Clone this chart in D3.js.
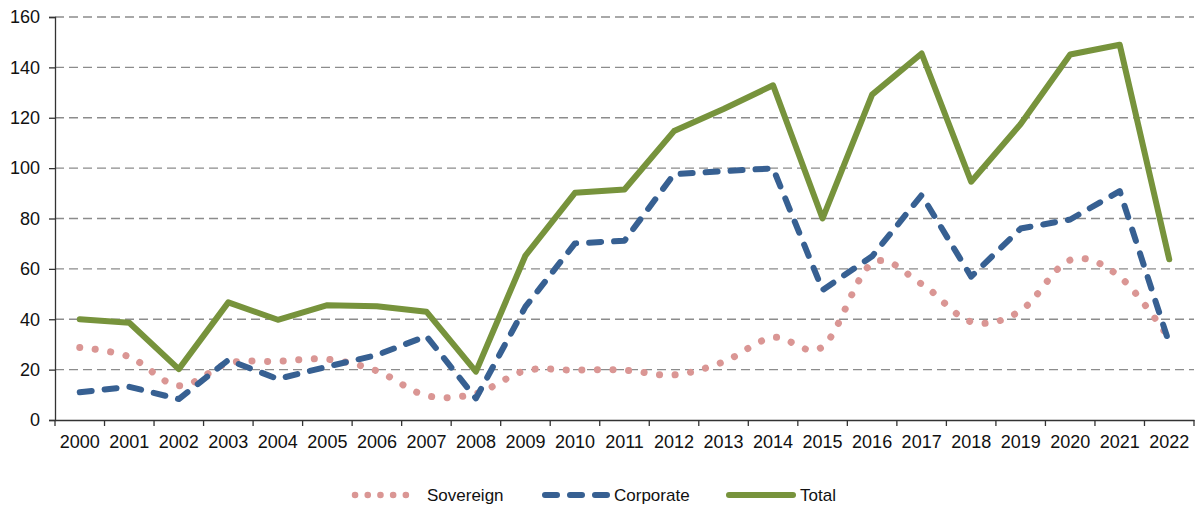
<!DOCTYPE html>
<html>
<head>
<meta charset="utf-8">
<script src="https://cdn.jsdelivr.net/npm/d3@7"></script>
<style>
  body { margin: 0; background: #fff; }
  svg { display: block; font-family: "Liberation Sans", Arial, sans-serif; }
</style>
</head>
<body>
<div id="chart"></div>
<script>
// years on the x axis
var years = ['2000','2001','2002','2003','2004','2005','2006','2007','2008','2009','2010','2011',
             '2012','2013','2014','2015','2016','2017','2018','2019','2020','2021','2022'];

// series values
var sovereign = [28.8, 25.1, 13.6, 22.5, 23.3, 24.1, 19.5, 9.7, 10.5, 19.6, 19.8, 19.8,
                 17.9, 23.1, 32.8, 29.1, 62.2, 54, 39, 43.4, 63.5, 56.9, 32.4];
var corporate = [11, 13.2, 8.3, 23.8, 16.3, 21.2, 25.8, 33.3, 8.6, 45, 70.1, 71.2,
                 97.6, 98.8, 99.9, 51.6, 65, 89.3, 56.9, 76, 79.6, 90.9, 30.4];
var total = [40, 38.6, 20.2, 46.7, 39.8, 45.6, 45.2, 43, 19.2, 65.3, 90.2, 91.5,
             114.7, 123.5, 132.9, 80, 129.2, 145.5, 94.6, 117.5, 145.1, 149, 63.8];

var yTicks = [0, 20, 40, 60, 80, 100, 120, 140, 160];

var width = 1196, height = 509;
var margin = {left: 55, right: 2, top: 17, bottom: 89};

var svg = d3.select('#chart').append('svg')
    .attr('width', width)
    .attr('height', height);

var x = d3.scaleBand()
    .domain(years)
    .range([margin.left, width - margin.right]);

var y = d3.scaleLinear()
    .domain([0, 160])
    .range([height - margin.bottom, margin.top]);

// gridlines (dashed grey), skip zero
svg.append('g')
    .selectAll('line')
    .data(yTicks.filter(function(d){ return d > 0; }))
    .enter().append('line')
        .attr('x1', margin.left)
        .attr('x2', width - margin.right)
        .attr('y1', function(d){ return y(d); })
        .attr('y2', function(d){ return y(d); })
        .attr('stroke', '#8c8c8c')
        .attr('stroke-width', 1.3)
        .attr('stroke-dasharray', '9,5');

// y axis
var yAxis = svg.append('g')
    .attr('transform', 'translate(' + margin.left + ',0)')
    .call(d3.axisLeft(y).tickValues(yTicks).tickSize(6).tickPadding(9));

// x axis, ticks between years
var xAxis = svg.append('g')
    .attr('transform', 'translate(0,' + y(0) + ')')
    .call(d3.axisBottom(x).tickSize(0).tickPadding(15));

xAxis.append('g')
    .selectAll('line')
    .data(years.concat(['end']))
    .enter().append('line')
        .attr('x1', function(d, i){ return margin.left + i * x.step(); })
        .attr('x2', function(d, i){ return margin.left + i * x.step(); })
        .attr('y1', 0)
        .attr('y2', 6)
        .attr('stroke', '#333');

[yAxis, xAxis].forEach(function(ax){
    ax.select('.domain').attr('stroke', '#333').attr('stroke-width', 1.3);
    ax.selectAll('.tick line').attr('stroke', '#333').attr('stroke-width', 1.3);
    ax.selectAll('text').attr('font-size', 18).attr('fill', '#111')
        .attr('font-family', '"Liberation Sans", Arial, sans-serif');
});
xAxis.selectAll('g line').attr('stroke-width', 1.3);

function cx(d, i){ return x(years[i]) + x.bandwidth() / 2; }

// series lines
var series = [
    {name: 'Sovereign', values: sovereign, color: '#DA9694', width: 7, dash: '0.1,15.5', curve: d3.curveCardinal.tension(0), legendDash: '0.1,12.6'},
    {name: 'Corporate', values: corporate, color: '#376092', width: 6, dash: '12,13', curve: d3.curveLinear, legendDash: '12,13'},
    {name: 'Total', values: total, color: '#77933C', width: 6, dash: null, curve: d3.curveLinear, legendDash: null}
];

series.forEach(function(s){
    var line = d3.line()
        .x(cx)
        .y(function(d){ return y(d); })
        .curve(s.curve);
    svg.append('path')
        .datum(s.values)
        .attr('d', line)
        .attr('fill', 'none')
        .attr('stroke', s.color)
        .attr('stroke-width', s.width)
        .attr('stroke-linecap', 'round')
        .attr('stroke-linejoin', 'round')
        .attr('stroke-dasharray', s.dash);
});

// legend
var legendY = 495;
var legendPos = [
    {x1: 355, x2: 411, tx: 427},
    {x1: 545, x2: 607, tx: 614},
    {x1: 729, x2: 793, tx: 800}
];

series.forEach(function(s, i){
    var p = legendPos[i];
    var g = svg.append('g');
    g.append('line')
        .attr('x1', p.x1).attr('x2', p.x2)
        .attr('y1', legendY).attr('y2', legendY)
        .attr('stroke', s.color)
        .attr('stroke-width', s.name == 'Sovereign' ? 6.5 : 6)
        .attr('stroke-linecap', 'round')
        .attr('stroke-dasharray', s.legendDash);
    g.append('text')
        .attr('x', p.tx)
        .attr('y', legendY)
        .attr('dy', '0.35em')
        .attr('font-size', 17)
        .attr('fill', '#111')
        .text(s.name);
});
</script>
</body>
</html>
